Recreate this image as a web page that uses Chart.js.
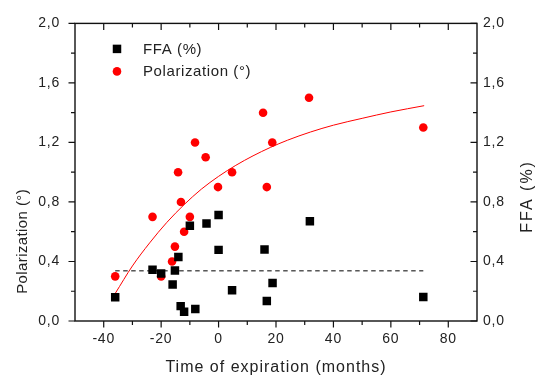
<!DOCTYPE html>
<html>
<head>
<meta charset="utf-8">
<script src="https://cdn.jsdelivr.net/npm/chart.js@4.4.1/dist/chart.umd.min.js"></script>
<style>
  html, body { margin: 0; padding: 0; background: #ffffff; }
  #wrap { width: 540px; height: 378px; position: relative; }
</style>
</head>
<body>
<div id="wrap"><canvas id="c" width="540" height="378"></canvas></div>
<script>
// ---- data ----
const ffaMonths = [-36, -23, -20, -16, -15.2, -14, -13.2, -12, -10, -8.1, -4.2, 0, 0, 4.7, 16, 16.8, 18.8, 31.8, 71.3];
const ffaValues = [0.16, 0.345, 0.32, 0.245, 0.34, 0.43, 0.10, 0.062, 0.64, 0.08, 0.655, 0.713, 0.478, 0.207, 0.48, 0.135, 0.255, 0.671, 0.162];

const polMonths = [-36, -23, -20, -16.2, -15.2, -14.1, -13.1, -12, -10, -8.2, -4.5, -0.2, 4.7, 15.5, 16.8, 18.7, 31.5, 71.3];
const polValues = [0.30, 0.70, 0.30, 0.40, 0.50, 1.00, 0.80, 0.60, 0.70, 1.20, 1.10, 0.90, 1.00, 1.40, 0.90, 1.20, 1.50, 1.30];

const fitMonths = [-36, -30, -24, -18, -12, -6, 0, 6, 12, 18, 24, 32, 40, 50, 60, 71.6];
const fitValues = [0.185, 0.37, 0.525, 0.663, 0.782, 0.886, 0.972, 1.046, 1.11, 1.166, 1.215, 1.27, 1.316, 1.362, 1.405, 1.447];

const meanMonths = [-36, 71.3];
const meanValues = [0.337, 0.337];

const xTickValues = [-40, -20, 0, 20, 40, 60, 80];
const xMinorValues = [-30, -10, 10, 30, 50, 70];
const yTickValues = [0, 0.4, 0.8, 1.2, 1.6, 2.0];
const yMinorValues = [0.2, 0.6, 1.0, 1.4, 1.8];
const yTickLabels = ['0,0', '0,4', '0,8', '1,2', '1,6', '2,0'];

const seriesNames = ['FFA (%)', 'Polarization (°)'];
const xTitle = 'Time of expiration (months)';
const yTitle = 'Polarization (°)';
const y2Title = 'FFA (%)';

// ---- rendering ----
const FONT = "'Liberation Sans', Arial, Helvetica, sans-serif";
const TEXT = '#222222';
const toXY = (xs, ys) => xs.map((x, i) => ({ x: x, y: ys[i] }));
const yLabel = (v) => { const i = yTickValues.findIndex(t => Math.abs(t - v) < 1e-6); return i >= 0 ? yTickLabels[i] : ''; };

const spacingPlugin = {
  id: 'spacing',
  beforeUpdate(chart) { chart.ctx.letterSpacing = '0.8px'; },
  beforeLayout(chart) { chart.ctx.letterSpacing = '0.8px'; },
  beforeDraw(chart) { chart.ctx.letterSpacing = '0.8px'; }
};

const framePlugin = {
  id: 'frame',
  afterDatasetsDraw(chart) {
    const { ctx, chartArea: a, scales } = chart;
    const x = scales.x, y = scales.y, y2 = scales.y2;
    ctx.save();
    ctx.strokeStyle = '#111111';
    ctx.lineWidth = 1.4;
    ctx.strokeRect(a.left, a.top, a.right - a.left, a.bottom - a.top);
    ctx.lineWidth = 1.2;
    ctx.beginPath();
    const MAJ = 6.5, MIN = 4;
    xTickValues.forEach(v => {
      const px = x.getPixelForValue(v);
      ctx.moveTo(px, a.bottom); ctx.lineTo(px, a.bottom + MAJ);
      ctx.moveTo(px, a.top); ctx.lineTo(px, a.top + MAJ);
    });
    xMinorValues.forEach(v => {
      const px = x.getPixelForValue(v);
      ctx.moveTo(px, a.bottom); ctx.lineTo(px, a.bottom + MIN);
      ctx.moveTo(px, a.top); ctx.lineTo(px, a.top + MIN);
    });
    yTickValues.forEach(v => {
      const py = y.getPixelForValue(v);
      ctx.moveTo(a.left, py); ctx.lineTo(a.left - MAJ, py);
      const py2 = y2.getPixelForValue(v);
      ctx.moveTo(a.right, py2); ctx.lineTo(a.right - MAJ, py2);
    });
    yMinorValues.forEach(v => {
      const py = y.getPixelForValue(v);
      ctx.moveTo(a.left, py); ctx.lineTo(a.left - MIN, py);
      const py2 = y2.getPixelForValue(v);
      ctx.moveTo(a.right, py2); ctx.lineTo(a.right - MIN, py2);
    });
    ctx.stroke();
    ctx.restore();
  }
};

const legendPlugin = {
  id: 'insideLegend',
  afterDraw(chart) {
    const { ctx, chartArea: a } = chart;
    const ds = chart.data.datasets;
    const mx = a.left + 42, tx = a.left + 68;
    const rows = [a.top + 25.5, a.top + 48];
    ctx.save();
    const s = ds[0].pointRadius * Math.SQRT1_2;
    ctx.fillStyle = ds[0].backgroundColor;
    ctx.fillRect(mx - s, rows[0] - s, 2 * s, 2 * s);
    ctx.fillStyle = ds[1].backgroundColor;
    ctx.beginPath(); ctx.arc(mx, rows[1], ds[1].pointRadius, 0, Math.PI * 2); ctx.fill();
    ctx.fillStyle = TEXT;
    ctx.font = '15px ' + FONT;
    ctx.letterSpacing = '0.6px';
    ctx.textAlign = 'left';
    ctx.textBaseline = 'middle';
    ctx.fillText(ds[0].label, tx, rows[0] + 0.5);
    ctx.fillText(ds[1].label, tx, rows[1] + 0.5);
    ctx.restore();
  }
};

const titlePlugin = {
  id: 'axisTitles',
  afterDraw(chart) {
    const { ctx, chartArea: a } = chart;
    ctx.save();
    ctx.fillStyle = TEXT;
    ctx.textAlign = 'center';
    ctx.textBaseline = 'alphabetic';
    ctx.font = '16px ' + FONT;
    ctx.letterSpacing = '1px';
    ctx.fillText(xTitle, (a.left + a.right) / 2, a.bottom + 51);

    ctx.save();
    ctx.translate(26.5, a.top + 218);
    ctx.rotate(-Math.PI / 2);
    ctx.font = '15px ' + FONT;
    ctx.letterSpacing = '0.4px';
    ctx.fillText(yTitle, 0, 0);
    ctx.restore();

    ctx.save();
    ctx.translate(a.right + 54.5, a.top + 173);
    ctx.rotate(-Math.PI / 2);
    ctx.font = '16px ' + FONT;
    ctx.letterSpacing = '2px';
    ctx.fillText(y2Title, 0, 0);
    ctx.restore();
    ctx.restore();
  }
};

const tickFont = { family: FONT, size: 14 };

new Chart(document.getElementById('c'), {
  type: 'scatter',
  data: {
    datasets: [
      { label: seriesNames[0], data: toXY(ffaMonths, ffaValues), yAxisID: 'y2',
        pointStyle: 'rect', pointRadius: 6, backgroundColor: '#000000', borderWidth: 0, order: 0 },
      { label: seriesNames[1], data: toXY(polMonths, polValues), yAxisID: 'y',
        pointStyle: 'circle', pointRadius: 4.3, backgroundColor: '#ff0000', borderWidth: 0, order: 1 },
      { label: 'fit', data: toXY(fitMonths, fitValues), yAxisID: 'y', showLine: true,
        pointRadius: 0, borderColor: '#ff0000', borderWidth: 1, cubicInterpolationMode: 'monotone', fill: false, order: 2 },
      { label: 'mean', data: toXY(meanMonths, meanValues), yAxisID: 'y2', showLine: true,
        pointRadius: 0, borderColor: '#000000', borderWidth: 1, borderDash: [4.5, 3.5], fill: false, order: 3 }
    ]
  },
  options: {
    responsive: false,
    animation: false,
    devicePixelRatio: 1,
    layout: { padding: { top: 22, left: 0, right: 0, bottom: 0 } },
    plugins: { legend: { display: false }, tooltip: { enabled: false } },
    scales: {
      x: {
        type: 'linear', position: 'bottom', min: -50, max: 90,
        grid: { display: false, drawTicks: false }, border: { display: false },
        afterBuildTicks: s => { s.ticks = xTickValues.map(v => ({ value: v })); },
        afterFit: s => { s.height = 57; },
        ticks: { font: tickFont, color: TEXT, padding: 10, maxRotation: 0, autoSkip: false, callback: v => String(v) }
      },
      y: {
        type: 'linear', position: 'left', min: 0, max: 2,
        grid: { display: false, drawTicks: false }, border: { display: false },
        afterBuildTicks: s => { s.ticks = yTickValues.map(v => ({ value: v })); },
        afterFit: s => { s.width = 75; },
        ticks: { font: tickFont, color: TEXT, padding: 15, autoSkip: false, callback: v => yLabel(v) }
      },
      y2: {
        type: 'linear', position: 'right', min: 0, max: 2,
        grid: { display: false, drawTicks: false }, border: { display: false },
        afterBuildTicks: s => { s.ticks = yTickValues.map(v => ({ value: v })); },
        afterFit: s => { s.width = 63; },
        ticks: { font: tickFont, color: TEXT, padding: 6, autoSkip: false, callback: v => yLabel(v) }
      }
    }
  },
  plugins: [spacingPlugin, framePlugin, legendPlugin, titlePlugin]
});
</script>
</body>
</html>
